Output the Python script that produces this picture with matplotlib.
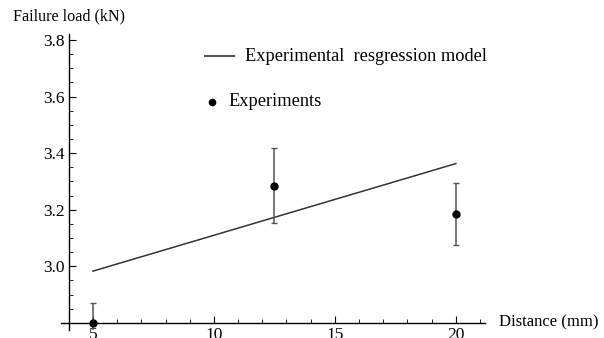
import matplotlib
matplotlib.use("Agg")

import numpy as np
import matplotlib.pyplot as plt
from matplotlib.ticker import MultipleLocator

# experiments
distance = [5.0, 12.5, 20.0]
load = [2.80, 3.285, 3.185]
load_err = [0.07, 0.132, 0.109]

# regression line end points
model_x = [5.0, 20.0]
model_y = [2.983, 3.363]

plt.rcParams['font.family'] = ['Liberation Serif', 'DejaVu Serif']

fig = plt.figure(figsize=(6.04, 3.38), dpi=100)
ax = fig.add_axes([0.1018, 0.0237, 0.701, 0.875])
ax.set_xlim(3.7, 21.2)
ax.set_ylim(2.775, 3.82)

ax.plot(model_x, model_y, color='#333333', lw=1.1)
ax.errorbar(distance, load, yerr=load_err, fmt='none', ecolor='#555555',
            elinewidth=1.1, capsize=2, capthick=1)
ax.plot(distance, load, 'o', color='black', ms=5, clip_on=False, zorder=5)

# axes crossing the Mathematica way
ax.spines['top'].set_visible(False)
ax.spines['right'].set_visible(False)
ax.spines['left'].set_position(('data', 4))
ax.spines['bottom'].set_position(('data', 2.8))
for s in ('left', 'bottom'):
    ax.spines[s].set_linewidth(1.0)

ax.xaxis.set_major_locator(MultipleLocator(5))
ax.xaxis.set_minor_locator(MultipleLocator(1))
ax.yaxis.set_minor_locator(MultipleLocator(0.05))
ax.set_yticks([3.0, 3.2, 3.4, 3.6, 3.8])
ax.tick_params(which='both', direction='in', labelsize=12.5)
ax.tick_params(which='major', length=5)
ax.tick_params(which='minor', length=3)
ax.tick_params(axis='x', pad=3)
ax.tick_params(axis='y', pad=3)

fig.text(0.022, 0.952, 'Failure load (kN)', fontsize=11.6, va='center', ha='left')
fig.text(0.826, 0.045, 'Distance (mm)', fontsize=12, va='center', ha='left')

# legend drawn by hand
ax.plot([9.63, 10.83], [3.743, 3.743], color='#555555', lw=1.5)
ax.text(11.28, 3.743, 'Experimental  resgression model', fontsize=13.2, va='center')
ax.plot([9.92], [3.581], 'o', color='black', ms=4.5)
ax.text(10.62, 3.581, 'Experiments', fontsize=13.2, va='center')

fig.savefig('out.png', dpi=100)
